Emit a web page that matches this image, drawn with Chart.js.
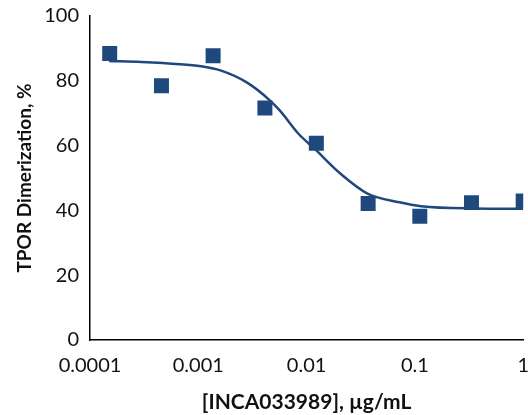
<!DOCTYPE html>
<html>
<head>
<meta charset="utf-8">
<script src="https://cdn.jsdelivr.net/npm/chart.js@4/dist/chart.umd.min.js"></script>
<style>
  html, body { margin: 0; padding: 0; background: #fff; }
  #wrap { width: 528px; height: 415px; overflow: hidden; }
  /* a little wider than the window so the "1" tick lands near the right edge */
  #inner { width: 536px; height: 415px; position: relative; }
</style>
</head>
<body>
<div id="wrap"><div id="inner"><canvas id="chart"></canvas></div></div>
<script>
// measured points (3-fold dilution series)
const DOSES = [0.000152, 0.000457, 0.00137, 0.00412, 0.0123, 0.037, 0.111, 0.333, 1];
const DIMERIZATION = [88.4, 78.5, 87.7, 71.6, 60.7, 42.1, 38.2, 42.4, 42.9];

// fitted curve
const FIT_X = [0.00015, 0.0003, 0.00068, 0.0011, 0.0016, 0.0028, 0.0046, 0.0057, 0.0085, 0.0117, 0.0206, 0.0365, 0.072, 0.114, 0.34, 1];
const FIT_Y = [86.1, 85.8, 85.1, 84.4, 83.2, 79.5, 73.9, 70.7, 63.5, 59.2, 51.3, 45.2, 42.5, 41.3, 40.6, 40.5];

const X_TICKS = [0.0001, 0.001, 0.01, 0.1, 1];
const X_TICK_LABELS = ["0.0001", "0.001", "0.01", "0.1", "1"];

const BLUE = "#1f497d";
const FONT = "Lato, 'Open Sans', sans-serif";

Chart.defaults.font.family = FONT;
Chart.defaults.color = "#111";

new Chart(document.getElementById("chart"), {
  type: "scatter",
  data: {
    datasets: [
      {
        label: "fit",
        data: FIT_X.map((x, i) => ({ x, y: FIT_Y[i] })),
        showLine: true,
        borderColor: BLUE,
        borderWidth: 2.5,
        pointRadius: 0,
        cubicInterpolationMode: "monotone",
        order: 2,
      },
      {
        label: "data",
        data: DOSES.map((x, i) => ({ x, y: DIMERIZATION[i] })),
        pointStyle: "rect",
        pointRadius: 10.6,
        backgroundColor: BLUE,
        borderColor: BLUE,
        borderWidth: 0,
        order: 1,
      },
    ],
  },
  options: {
    responsive: true,
    maintainAspectRatio: false,
    animation: false,
    layout: { padding: { top: 16, right: 0, left: 0, bottom: 0 } },
    plugins: { legend: { display: false }, tooltip: { enabled: false } },
    scales: {
      x: {
        type: "logarithmic",
        min: 0.0001,
        max: 1,
        afterBuildTicks: (scale) => {
          scale.ticks = X_TICKS.map((v) => ({ value: v }));
        },
        afterFit: (scale) => { scale.height = 75; },
        grid: { display: false, drawTicks: true, tickLength: 7, tickColor: "#000", tickWidth: 1.5 },
        border: { color: "#000", width: 1.5 },
        ticks: {
          autoSkip: false,
          maxRotation: 0,
          padding: 7,
          font: { size: 20 },
          color: "#111",
          callback: (v, i) => X_TICK_LABELS[i],
        },
        title: {
          display: true,
          text: "[INCA033989], µg/mL",
          font: { size: 21, weight: "bold" },
          color: "#111",
          padding: { top: 1, bottom: 0 },
        },
      },
      y: {
        min: 0,
        max: 100,
        afterFit: (scale) => { scale.width = 90; },
        grid: { display: false, drawTicks: true, tickLength: 7, tickColor: "#000", tickWidth: 1.5 },
        border: { color: "#000", width: 1.5 },
        ticks: {
          stepSize: 20,
          padding: 4,
          font: { size: 20 },
          color: "#111",
        },
        title: {
          display: true,
          text: "TPOR Dimerization, %",
          font: { size: 19, weight: "bold" },
          color: "#111",
          padding: { top: 13, bottom: 0 },
        },
      },
    },
  },
});
</script>
</body>
</html>
